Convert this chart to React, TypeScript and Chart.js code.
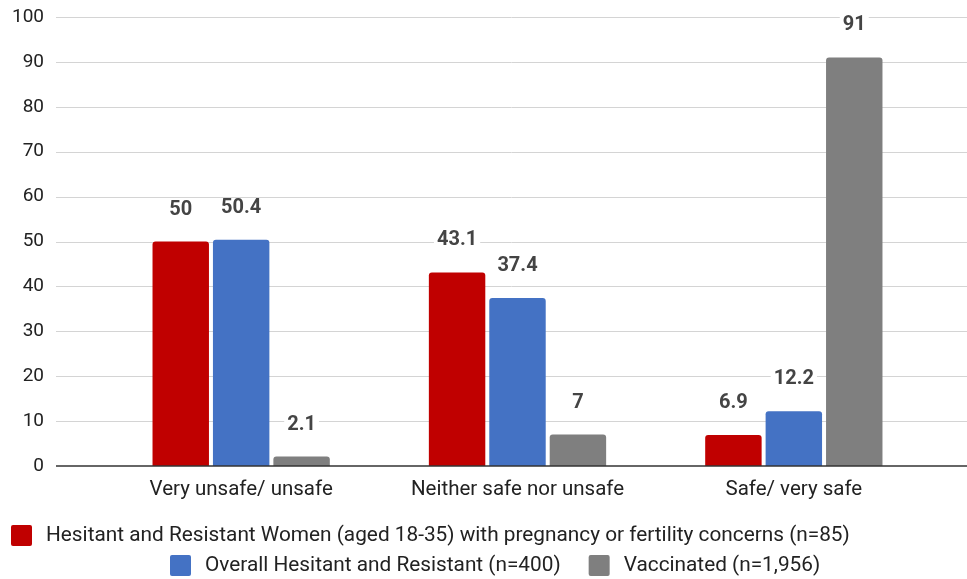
import React, { useEffect, useRef } from "react";
import { Chart, registerables } from "chart.js";

Chart.register(...registerables);

const categories = ["Very unsafe/ unsafe", "Neither safe nor unsafe", "Safe/ very safe"];
const seriesLabels = [
  "Hesitant and Resistant Women (aged 18-35) with pregnancy or fertility concerns (n=85)",
  "Overall Hesitant and Resistant (n=400)",
  "Vaccinated (n=1,956)",
];
const womenValues = [50, 43.1, 6.9];
const overallValues = [50.4, 37.4, 12.2];
const vaccinatedValues = [2.1, 7, 91];
const seriesColors = ["#c00000", "#4472c4", "#7f7f7f"];
const yMin = 0;
const yMax = 100;
const yStep = 10;

const FONT = "Roboto";

const gridPlugin = {
  id: "extGrid",
  beforeDatasetsDraw(chart: any) {
    const ctx = chart.ctx;
    const y = chart.scales.y;
    ctx.save();
    y.ticks.forEach((t: any) => {
      if (t.value === 0) return;
      const py = Math.round(y.getPixelForValue(t.value)) + 0.5;
      ctx.strokeStyle = "#d4d4d4";
      ctx.lineWidth = 1;
      ctx.beginPath();
      ctx.moveTo(56, py);
      ctx.lineTo(chart.width, py);
      ctx.stroke();
    });
    ctx.restore();
  },
  afterDatasetsDraw(chart: any) {
    const ctx = chart.ctx;
    const y = chart.scales.y;
    ctx.save();
    const py = y.getPixelForValue(0);
    ctx.strokeStyle = "#333333";
    ctx.lineWidth = 1.5;
    ctx.beginPath();
    ctx.moveTo(56, py);
    ctx.lineTo(chart.width, py);
    ctx.stroke();

    // data labels
    ctx.font = `bold 20px ${FONT}`;
    ctx.textAlign = "center";
    ctx.textBaseline = "middle";
    chart.data.datasets.forEach((ds: any, di: number) => {
      const meta = chart.getDatasetMeta(di);
      meta.data.forEach((bar: any, i: number) => {
        const txt = String(ds.data[i]);
        const cx = bar.x;
        const cy = bar.y - 33;
        const w = ctx.measureText(txt).width;
        ctx.fillStyle = "#ffffff";
        ctx.fillRect(cx - w / 2 - 3, cy - 8, w + 6, 16);
        ctx.fillStyle = "#444444";
        ctx.fillText(txt, cx, cy + 1);
      });
    });
    ctx.restore();
  },
};

const legendPlugin = {
  id: "customLegend",
  afterDraw(chart: any) {
    const ctx = chart.ctx;
    const rows = [
      { start: 11, cy: 535.5, items: [0] },
      { start: 170, cy: 565.5, items: [1, 2] },
    ];
    ctx.save();
    ctx.font = `20.8px ${FONT}`;
    ctx.textBaseline = "middle";
    ctx.textAlign = "left";
    rows.forEach((row) => {
      let x = row.start;
      row.items.forEach((idx) => {
        const ds = chart.data.datasets[idx];
        ctx.fillStyle = ds.backgroundColor;
        ctx.beginPath();
        (ctx as any).roundRect(x, row.cy - 10.5, 21, 21, 2);
        ctx.fill();
        ctx.fillStyle = "#222222";
        const tx = x + 35;
        ctx.fillText(ds.label, tx, row.cy);
        x = tx + ctx.measureText(ds.label).width + 28;
      });
    });
    ctx.restore();
  },
};

export default function App() {
  const ref = useRef<HTMLCanvasElement | null>(null);
  useEffect(() => {
    if (!ref.current) return;
    const values = [womenValues, overallValues, vaccinatedValues];
    const chart = new Chart(ref.current, {
      type: "bar",
      data: {
        labels: categories,
        datasets: seriesLabels.map((label, i) => ({
          label,
          data: values[i],
          backgroundColor: seriesColors[i],
          borderRadius: { topLeft: 3, topRight: 3, bottomLeft: 0, bottomRight: 0 },
          borderSkipped: "start",
          categoryPercentage: 0.656,
          barPercentage: 0.934,
        })),
      },
      options: {
        responsive: false,
        animation: false,
        layout: { padding: { top: 17, right: 35, bottom: 0, left: 0 } },
        plugins: {
          legend: { display: false },
          tooltip: { enabled: false },
        },
        scales: {
          x: {
            grid: { display: false, drawTicks: false },
            border: { display: false },
            ticks: {
              font: { family: FONT, size: 20.5 },
              color: "#222222",
              padding: 12,
              maxRotation: 0,
            },
            afterFit: (scale: any) => {
              scale.height = 113;
              scale.paddingLeft = 0;
              scale.paddingRight = 0;
            },
          },
          y: {
            min: yMin,
            max: yMax,
            grid: { display: false, drawTicks: false },
            border: { display: false },
            ticks: {
              stepSize: yStep,
              font: { family: FONT, size: 19 },
              color: "#222222",
              padding: 59,
            },
            afterFit: (scale: any) => {
              scale.width = 103;
              scale.paddingTop = 0;
              scale.paddingBottom = 0;
            },
          },
        },
      },
      plugins: [gridPlugin, legendPlugin],
    });
    return () => chart.destroy();
  }, []);
  return (
    <canvas
      ref={ref}
      width={967}
      height={579}
      style={{ position: "absolute", left: 0, top: 0, width: 967, height: 579 }}
    />
  );
}
